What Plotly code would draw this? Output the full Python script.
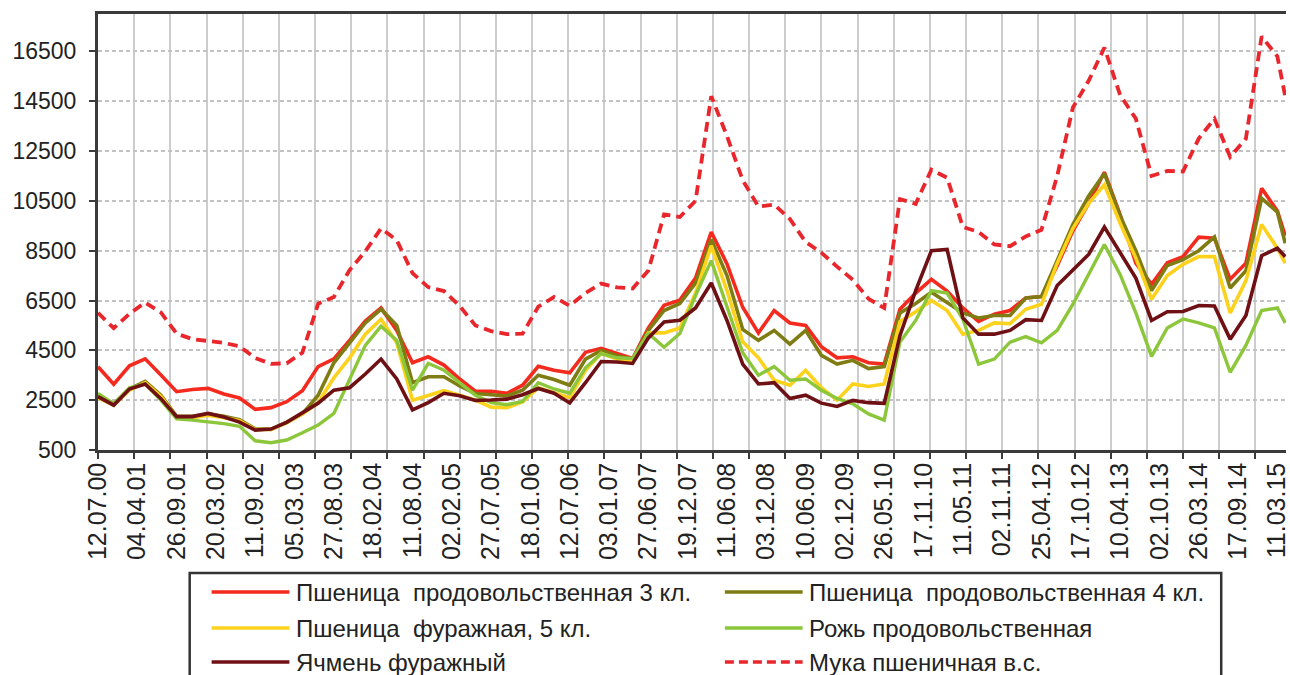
import plotly.graph_objects as go

# ---- data (weekly index grid, every 10 weeks) ----
weeks = list(range(0, 751, 10)) + [755]

label_idx = list(range(0, 751, 25))
labels = ["12.07.00", "04.04.01", "26.09.01", "20.03.02", "11.09.02", "05.03.03",
          "27.08.03", "18.02.04", "11.08.04", "02.02.05", "27.07.05", "18.01.06",
          "12.07.06", "03.01.07", "27.06.07", "19.12.07", "11.06.08", "03.12.08",
          "10.06.09", "02.12.09", "26.05.10", "17.11.10", "11.05.11", "02.11.11",
          "25.04.12", "17.10.12", "10.04.13", "02.10.13", "26.03.14", "17.09.14",
          "11.03.15"]
tick_idx = list(range(0, 756, 23))
y_ticks = [500, 2500, 4500, 6500, 8500, 10500, 12500, 14500, 16500]
y_ticktext = ["500", "2500", "4500", "6500", "8500", "10500", "12500", "14500", "16500"]

wheat3 = [3840, 3140, 3880, 4160, 3510, 2840, 2930, 2975, 2750, 2590,
          2130, 2200, 2440, 2880, 3850, 4160, 4900, 5680, 6200, 5300,
          4000, 4240, 3910, 3350, 2860, 2860, 2775, 3100, 3860, 3700,
          3600, 4420, 4580, 4390, 4170, 5400, 6310, 6515, 7400, 9250,
          7970, 6230, 5200, 6100, 5600, 5500, 4650, 4200, 4240, 4000,
          3950, 6150, 6800, 7350, 6880, 6200, 5660, 5950, 6100, 6600,
          6660, 7900, 9300, 10400, 11650, 9950, 8000, 7150, 8020, 8260,
          9040, 9000, 7350, 8000, 11000, 10100, 9100]

wheat4 = [2700, 2350, 2950, 3250, 2700, 1850, 1850, 1950, 1850, 1720,
          1350, 1330, 1620, 1950, 2700, 4000, 4800, 5600, 6150, 5500,
          3200, 3440, 3440, 3070, 2770, 2710, 2670, 2900, 3500, 3330,
          3100, 4150, 4500, 4280, 4140, 5300, 6100, 6380, 7200, 8950,
          7500, 5340, 4900, 5300, 4750, 5300, 4300, 3950, 4100, 3770,
          3850, 6000, 6380, 6830, 6400, 6000, 5800, 5900, 5900, 6600,
          6660, 8150, 9560, 10700, 11600, 9900, 8500, 6900, 7900, 8140,
          8500, 9050, 7000, 7700, 10600, 10050, 8800]

wheat5 = [2600, 2300, 2900, 3200, 2650, 1800, 1800, 1900, 1800, 1680,
          1320, 1320, 1600, 1950, 2400, 3400, 4200, 5150, 5750, 4800,
          2500, 2700, 2880, 2700, 2500, 2220, 2200, 2430, 3000, 2800,
          2600, 3700, 4380, 4150, 4050, 5200, 5200, 5400, 6800, 8700,
          6900, 4840, 4200, 3300, 3100, 3700, 3000, 2500, 3150, 3050,
          3150, 5650, 6050, 6500, 6100, 5150, 5300, 5600, 5570, 6150,
          6350, 8000, 9400, 10400, 11150, 9600, 8200, 6550, 7500, 7950,
          8260, 8260, 6000, 7300, 9550, 8600, 8000]

rye = [2775, 2350, 3000, 3150, 2500, 1750, 1700, 1640, 1560, 1450,
       870, 790, 900, 1190, 1500, 1970, 3300, 4700, 5470, 4900,
       2900, 3980, 3700, 3200, 2700, 2400, 2320, 2450, 3200, 2950,
       2780, 3800, 4370, 4200, 4175, 5180, 4620, 5180, 6700, 8100,
       6200, 4400, 3500, 3850, 3300, 3350, 2900, 2570, 2350, 1950,
       1700, 4840, 5700, 6900, 6800, 5750, 3950, 4150, 4830, 5050,
       4800, 5300, 6350, 7550, 8750, 7550, 6000, 4260, 5400, 5760,
       5600, 5400, 3620, 4700, 6100, 6200, 5600]

barley = [2640, 2300, 2950, 3150, 2560, 1840, 1840, 1970, 1820, 1620,
          1300, 1340, 1610, 1980, 2380, 2900, 3000, 3550, 4150, 3350,
          2110, 2400, 2775, 2680, 2490, 2505, 2540, 2720, 2970, 2780,
          2390, 3200, 4050, 4030, 3975, 5000, 5640, 5710, 6200, 7200,
          5700, 3950, 3150, 3200, 2570, 2700, 2380, 2250, 2490, 2400,
          2370, 5100, 6900, 8500, 8550, 5800, 5150, 5150, 5300, 5730,
          5700, 7100, 7720, 8350, 9450, 8450, 7400, 5700, 6050, 6060,
          6300, 6280, 4950, 5900, 8300, 8600, 8260]

flour = [6000, 5390, 5970, 6420, 6020, 5170, 4950, 4880, 4800, 4660,
         4190, 3960, 3980, 4410, 6370, 6640, 7720, 8480, 9390, 8920,
         7600, 7040, 6880, 6280, 5500, 5270, 5150, 5170, 6250, 6640,
         6290, 6800, 7180, 7030, 6985, 7700, 9960, 9850, 10500, 14700,
         13100, 11330, 10270, 10350, 9770, 8850, 8420, 7860, 7330, 6570,
         6200, 10570, 10380, 11750, 11430, 9450, 9250, 8750, 8680, 9070,
         9340, 11500, 14250, 15320, 16650, 14750, 13800, 11500, 11700, 11680,
         13000, 13800, 12260, 13000, 17100, 16300, 14700]

names = ["Пшеница  продовольственная 3 кл.", "Пшеница  продовольственная 4 кл.",
         "Пшеница  фуражная, 5 кл.", "Рожь продовольственная",
         "Ячмень фуражный", "Мука пшеничная в.с."]
values = [wheat3, wheat4, wheat5, rye, barley, flour]
colors = ["#f42a1e", "#7e7c12", "#fcd21c", "#8cc63a", "#6e1014", "#e8262c"]
dashes = ["solid", "solid", "solid", "solid", "solid", "10px,6px"]
widths = [3.6, 3.6, 3.6, 3.4, 3.6, 3.8]

FONT = "Liberation Sans, Arial, sans-serif"
TXT = "#222222"
AX = "#3a3a3a"

W, H = 1290, 675
ML, MR, MT, MB = 98, 0, 14, 225
PW, PH = W - ML - MR, H - MT - MB

fig = go.Figure()
for n, v, c, d, w in zip(names, values, colors, dashes, widths):
    fig.add_trace(go.Scatter(x=weeks, y=v, mode="lines", name=n, showlegend=False,
                             line=dict(color=c, width=w, dash=d)))

fig.update_layout(
    width=W, height=H,
    margin=dict(l=ML, r=MR, t=MT, b=MB),
    paper_bgcolor="white", plot_bgcolor="white",
    font=dict(family=FONT, color=TXT),
    xaxis=dict(range=[0, 755.5], tickmode="array", tickvals=label_idx, ticktext=labels,
               tickangle=-90, ticks="", showgrid=False, zeroline=False,
               showline=True, linecolor=AX, linewidth=2.5, mirror=True,
               ticklabeloverflow="allow",
               tickfont=dict(size=25, family=FONT, color=TXT),
               minor=dict(tickmode="array", tickvals=tick_idx, ticks="outside", ticklen=6,
                          tickwidth=2, tickcolor=AX, showgrid=True,
                          gridcolor="#cdcdcd", gridwidth=2)),
    yaxis=dict(range=[500, 18000], tickmode="array", tickvals=y_ticks, ticktext=y_ticktext,
               ticks="outside", ticklen=6, tickwidth=2, tickcolor=AX,
               showgrid=True, gridcolor="#c2c2c2", gridwidth=1.5, griddash="4px,3px",
               zeroline=False, showline=True, linecolor=AX, linewidth=3,
               tickfont=dict(size=23, family=FONT, color=TXT), ticklabelstandoff=8),
)

# ---- legend drawn as shapes + text (long line samples as in the reference) ----
def pxx(p):
    return (p - ML) / PW

def pxy(p):
    return (MT + PH - p) / PH

shapes = [dict(type="rect", xref="paper", yref="paper",
               x0=pxx(190), x1=pxx(1225), y0=pxy(573), y1=pxy(700),
               line=dict(color="#333333", width=2.5), fillcolor="white", layer="below")]
annotations = []
col_line = [(212, 290), (727, 805)]
col_text = [295, 809]
row_y = [592, 628, 662]
for i, (n, c, d) in enumerate(zip(names, colors, dashes)):
    col, row = i % 2, i // 2
    ld = "9px,5px" if d != "solid" else "solid"
    shapes.append(dict(type="line", xref="paper", yref="paper",
                       x0=pxx(col_line[col][0]), x1=pxx(col_line[col][1]),
                       y0=pxy(row_y[row]), y1=pxy(row_y[row]),
                       line=dict(color=c, width=3.5, dash=ld)))
    annotations.append(dict(xref="paper", yref="paper", x=pxx(col_text[col]), y=pxy(row_y[row]),
                            text=n, showarrow=False, xanchor="left", yanchor="middle",
                            font=dict(size=24, family=FONT, color=TXT)))
fig.update_layout(shapes=shapes, annotations=annotations)

fig.write_html("out.html", config={"displayModeBar": False},
               post_script="document.body.style.margin='0px';")
